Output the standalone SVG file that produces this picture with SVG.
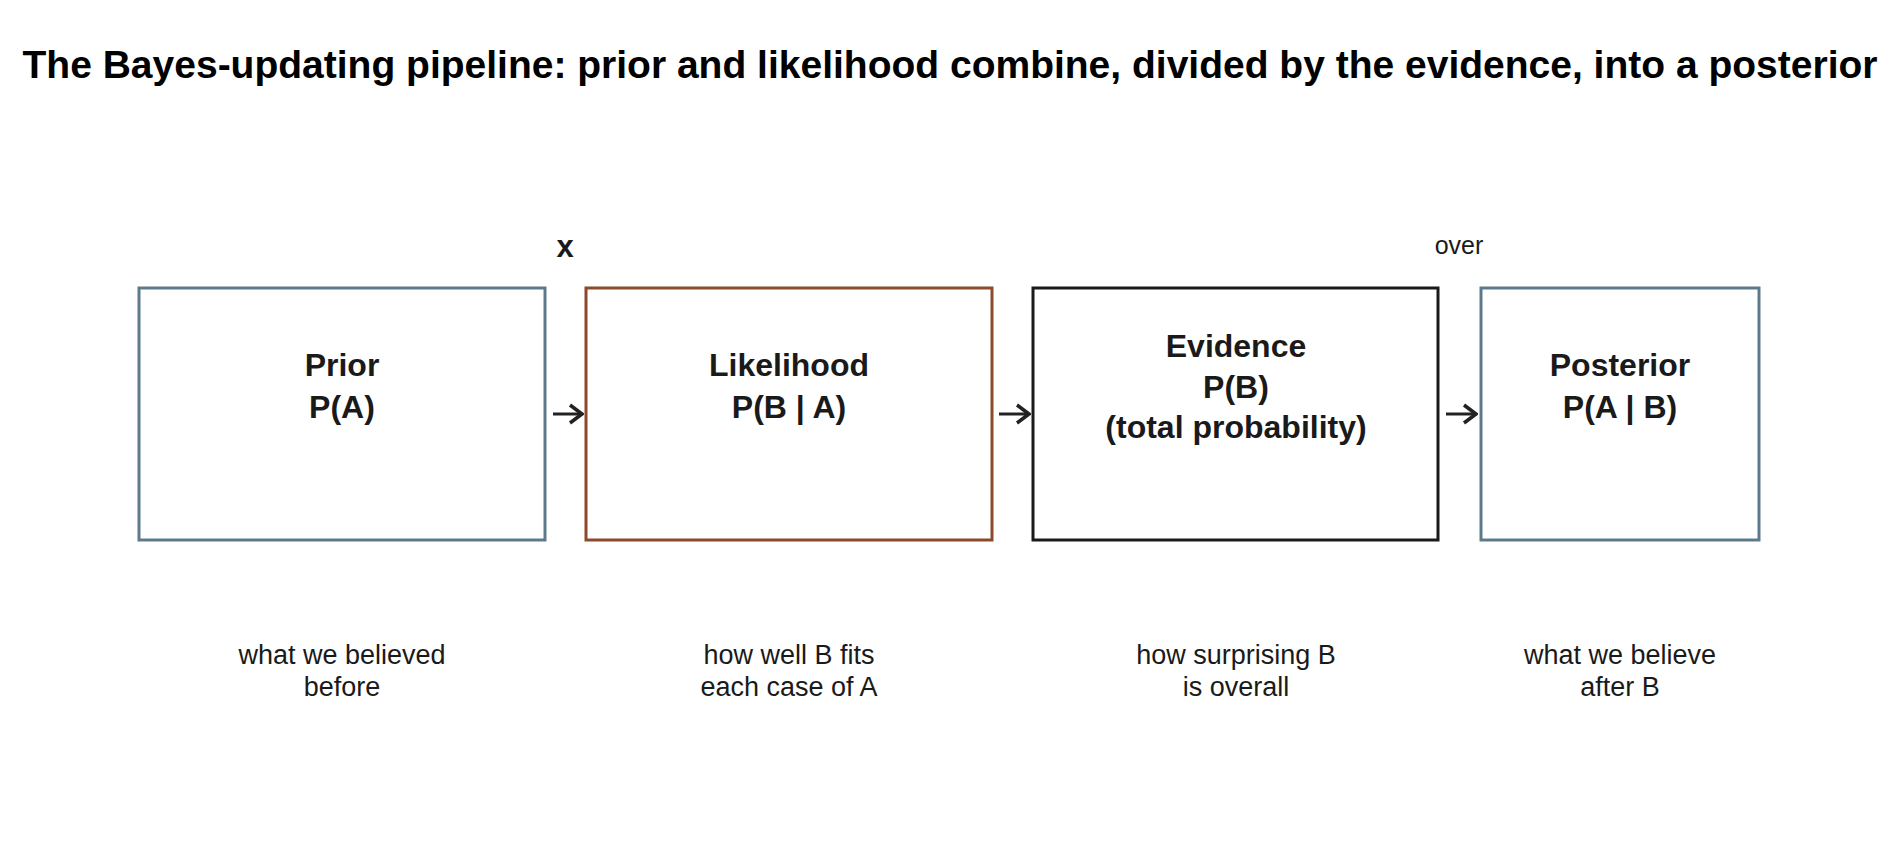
<svg xmlns="http://www.w3.org/2000/svg" width="1900" height="850" viewBox="0 0 1900 850">
<style>
text{font-family:"Liberation Sans",Arial,sans-serif;fill:#1a1a1a;text-anchor:middle}
.t{font-size:39px;font-weight:bold;fill:#000}
.n{font-size:32px;font-weight:bold}
.s{font-size:27px}
rect{fill:#fff;stroke-width:3}
.c{stroke:#222;stroke-width:3;fill:none}
</style>
<defs><marker id="a" markerWidth="16" markerHeight="22" refX="14" refY="11" orient="auto" markerUnits="userSpaceOnUse"><path d="M2,2 L14,11 L2,20" fill="none" stroke="#222" stroke-width="3.5"/></marker></defs>
<rect width="1900" height="850" fill="#fff" stroke="none"/>
<text class="t" x="950" y="78">The Bayes-updating pipeline: prior and likelihood combine, divided by the evidence, into a posterior</text>
<g id="prior"><rect x="139" y="288" width="406" height="252" stroke="#5d7a8c"/><text class="n" x="342" y="376">Prior</text><text class="n" x="342" y="418">P(A)</text><text class="s" x="342" y="664">what we believed</text><text class="s" x="342" y="696">before</text></g>
<g id="likelihood"><rect x="586" y="288" width="406" height="252" stroke="#8b4a2b"/><text class="n" x="789" y="376">Likelihood</text><text class="n" x="789" y="418">P(B | A)</text><text class="s" x="789" y="664">how well B fits</text><text class="s" x="789" y="696">each case of A</text></g>
<g id="evidence"><rect x="1033" y="288" width="405" height="252" stroke="#1a1a1a"/><text class="n" x="1236" y="357">Evidence</text><text class="n" x="1236" y="398">P(B)</text><text class="n" x="1236" y="438">(total probability)</text><text class="s" x="1236" y="664">how surprising B</text><text class="s" x="1236" y="696">is overall</text></g>
<g id="posterior"><rect x="1481" y="288" width="278" height="252" stroke="#5d7a8c"/><text class="n" x="1620" y="376">Posterior</text><text class="n" x="1620" y="418">P(A | B)</text><text class="s" x="1620" y="664">what we believe</text><text class="s" x="1620" y="696">after B</text></g>
<g id="connectors">
<line class="c" x1="553" y1="414" x2="582" y2="414" marker-end="url(#a)"/>
<line class="c" x1="999" y1="414" x2="1029" y2="414" marker-end="url(#a)"/>
<line class="c" x1="1446" y1="414" x2="1476" y2="414" marker-end="url(#a)"/>
<text x="565" y="257" style="font-size:31px;font-weight:bold">x</text>
<text class="s" x="1459" y="254" style="font-size:25px">over</text>
</g>
</svg>
